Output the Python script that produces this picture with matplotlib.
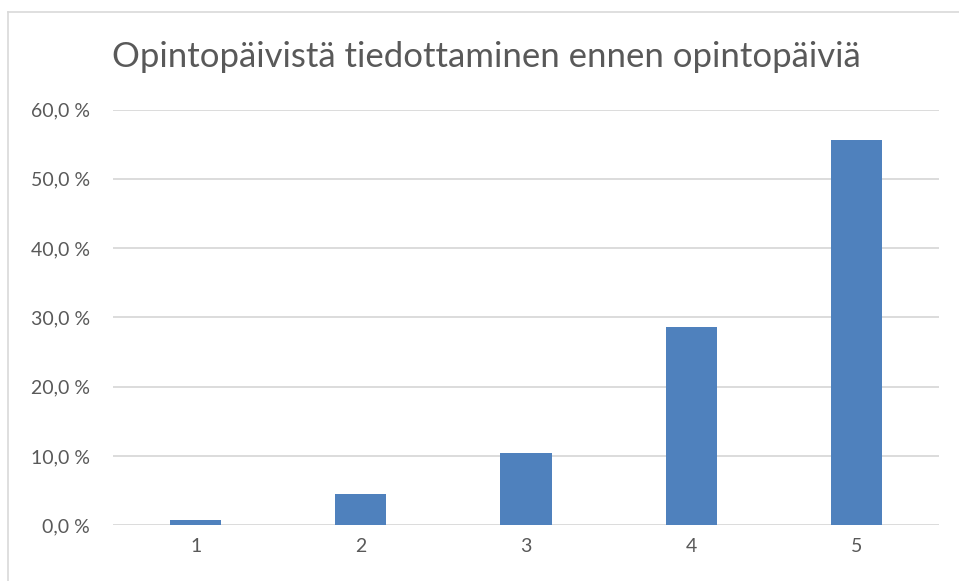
import matplotlib
matplotlib.use("Agg")
import matplotlib.pyplot as plt
from matplotlib.lines import Line2D

categories = ["1", "2", "3", "4", "5"]
values = [0.8, 4.5, 10.5, 28.6, 55.6]
yticks = [0, 10, 20, 30, 40, 50, 60]
ytick_labels = ["0,0 %", "10,0 %", "20,0 %", "30,0 %", "40,0 %", "50,0 %", "60,0 %"]
title = "Opintopäivistä tiedottaminen ennen opintopäiviä"

W, H = 959, 581
fig = plt.figure(figsize=(W / 100, H / 100), dpi=100)
fig.patch.set_facecolor("white")

ax = fig.add_axes([113 / W, 1 - 525.3 / H, (939 - 113) / W, (525.3 - 109.5) / H])
x = list(range(1, len(categories) + 1))
ax.bar(x, values, width=0.31, color="#4F81BD", zorder=3)
ax.set_xlim(0.5, len(categories) + 0.5)
ax.set_ylim(0, 60)
ax.set_xticks(x)
ax.set_xticklabels(categories)
ax.set_yticks(yticks)
ax.set_yticklabels(ytick_labels)
ax.grid(axis="y", color="#D9D9D9", linewidth=1.3, zorder=0)
for s in ax.spines.values():
    s.set_visible(False)
ax.tick_params(axis="both", length=0, labelsize=14, labelcolor="#595959")
ax.tick_params(axis="y", pad=16.5)
ax.tick_params(axis="x", pad=9)
for lab in ax.get_xticklabels() + ax.get_yticklabels():
    lab.set_fontfamily("Lato")

fig.text(486 / W, 1 - 57 / H, title, ha="center", va="center",
         fontsize=25, color="#595959", fontfamily="Lato")

# chart border
fig.add_artist(Line2D([8 / W, 8 / W], [0, 1 - 11.5 / H], transform=fig.transFigure,
                      color="#D9D9D9", linewidth=1.2))
fig.add_artist(Line2D([8 / W, 1], [1 - 11.5 / H, 1 - 11.5 / H], transform=fig.transFigure,
                      color="#D9D9D9", linewidth=1.2))

fig.savefig("out.png", dpi=100, facecolor="white")
